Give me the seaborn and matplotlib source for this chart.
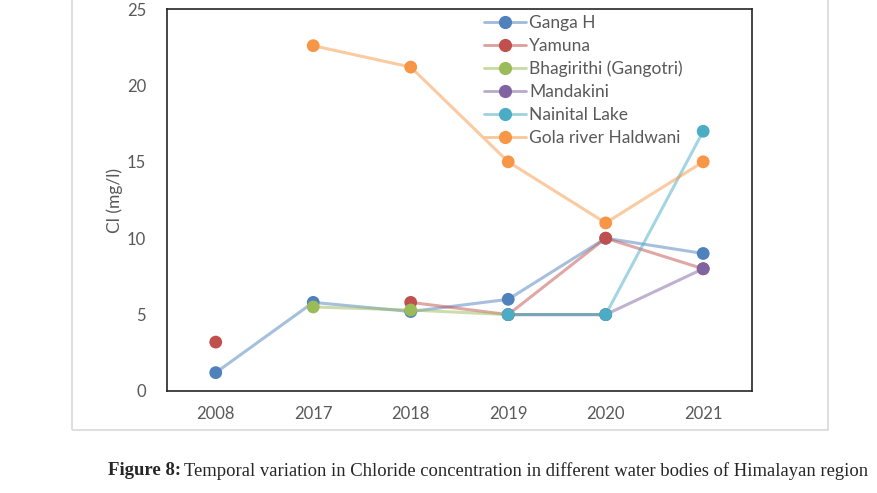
import numpy as np
import pandas as pd
import seaborn as sns
import matplotlib.pyplot as plt
from matplotlib.colors import to_rgb
from matplotlib.lines import Line2D
from matplotlib.patches import Rectangle

# --- data ---
YEARS = ["2008", "2017", "2018", "2019", "2020", "2021"]
SERIES = ["Ganga H", "Yamuna", "Bhagirithi (Gangotri)", "Mandakini",
          "Nainital Lake", "Gola river Haldwani"]
ganga = [1.2, 5.8, 5.2, 6.0, 10.0, 9.0]
yamuna = [3.2, np.nan, 5.8, 5.0, 10.0, 8.0]
bhagirithi = [np.nan, 5.5, 5.3, 5.0, 5.0, np.nan]
mandakini = [np.nan, np.nan, np.nan, 5.0, 5.0, 8.0]
nainital = [np.nan, np.nan, np.nan, 5.0, 5.0, 17.0]
gola = [np.nan, 22.6, 21.2, 15.0, 11.0, 15.0]
VALUES = [ganga, yamuna, bhagirithi, mandakini, nainital, gola]
COLORS = ["#4F81BD", "#C0504D", "#9BBB59", "#8064A2", "#4BACC6", "#F79646"]

GREY = "#595959"


def lighten(c, f=0.45):
    r, g, b = to_rgb(c)
    return (r + (1 - r) * f, g + (1 - g) * f, b + (1 - b) * f)


sns.set_theme(style="white")
plt.rcParams['font.family'] = ['Lato', 'DejaVu Sans']

fig = plt.figure(figsize=(8.77, 4.93), dpi=100)
# light outer chart-area frame
fig.patches.append(Rectangle((0.0821, 0.1278), 0.862, 0.9, transform=fig.transFigure,
                             fill=False, edgecolor="#D9D9D9", linewidth=1.2))
ax = fig.add_axes([0.1904, 0.2069, 0.667, 0.7748])

# long table, with a segment id so gaps stay unconnected
rows = []
for name, vals in zip(SERIES, VALUES):
    seg = 0
    prev_nan = True
    for i, v in enumerate(vals):
        if np.isnan(v):
            prev_nan = True
            continue
        if prev_nan:
            seg += 1
        prev_nan = False
        rows.append({"series": name, "pos": i, "cl": v, "seg": seg})
df = pd.DataFrame(rows)

for name, col in zip(SERIES, COLORS):
    d = df[df["series"] == name]
    sns.lineplot(data=d, x="pos", y="cl", units="seg", estimator=None, ax=ax,
                 color=col, alpha=0.5, linewidth=2.2, zorder=2)
    sns.scatterplot(data=d, x="pos", y="cl", ax=ax, color=col, s=85,
                    edgecolor="none", zorder=3)

ax.set_xlim(-0.5, len(YEARS) - 0.5)
ax.set_ylim(0, 25)
ax.set_xticks(range(len(YEARS)))
ax.set_xticklabels(YEARS)
ax.set_yticks([0, 5, 10, 15, 20, 25])
ax.tick_params(length=0, labelsize=12, colors=GREY)
ax.tick_params(axis="y", pad=15)
ax.tick_params(axis="x", pad=11)
ax.set_xlabel("")
ax.set_ylabel("Cl (mg/l)", fontsize=12.5, color=GREY, labelpad=3)
for sp in ax.spines.values():
    sp.set_color("#262626")
    sp.set_linewidth(1.2)

handles = [Line2D([0], [0], color=lighten(c), linewidth=2, marker="o",
                  markersize=8.5, markerfacecolor=c, markeredgecolor=c)
           for c in COLORS]
leg = ax.legend(handles, SERIES, loc="upper left", bbox_to_anchor=(0.53, 1.003),
                frameon=False, fontsize=12.5, handlelength=2.45, handletextpad=0.15,
                labelspacing=0.4, borderaxespad=0)
for t in leg.get_texts():
    t.set_color(GREY)

# caption: bold lead-in followed by plain text
cap_y = 0.045
lead = fig.text(0.123, cap_y, "Figure 8:", fontsize=13.5, fontweight="bold",
                family=["Liberation Serif"], ha="left", va="center")
fig.canvas.draw()
bb = lead.get_window_extent().transformed(fig.transFigure.inverted())
fig.text(bb.x1 + 0.003, cap_y,
         "Temporal variation in Chloride concentration in different water bodies of Himalayan region",
         fontsize=13.4, family=["Liberation Serif"], ha="left", va="center")

fig.savefig("out.png", dpi=100)
